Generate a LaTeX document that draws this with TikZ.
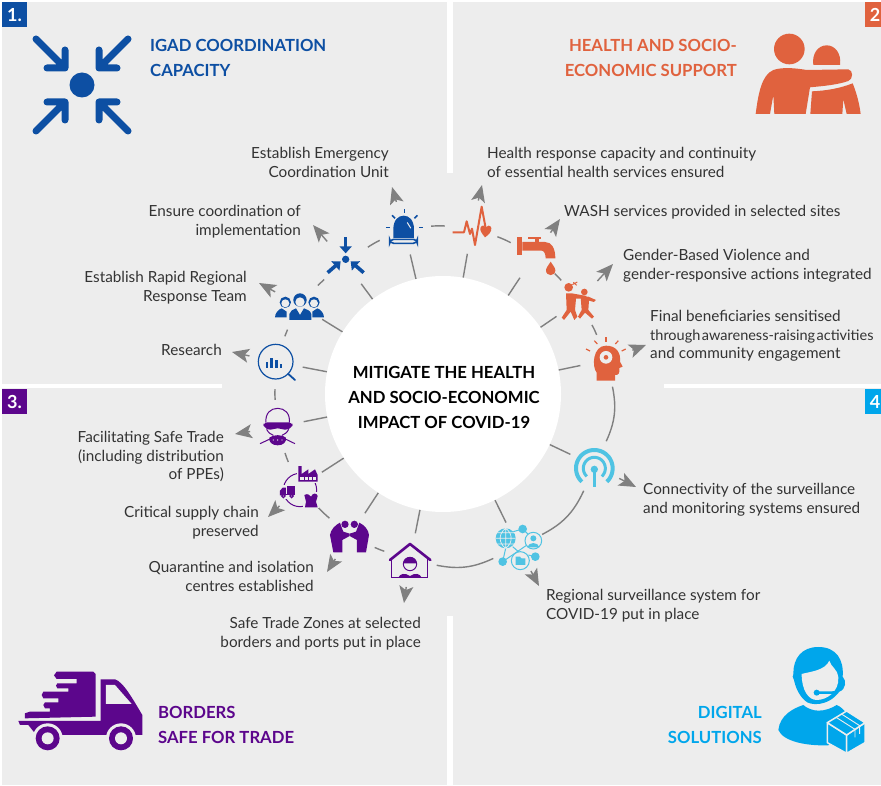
\documentclass[tikz,border=0pt]{standalone}
\usepackage{fontspec}
\setmainfont{Lato}
\usetikzlibrary{arrows.meta}
\definecolor{panelgray}{HTML}{EDEDED}
\definecolor{igadblue}{HTML}{0D4FA3}
\definecolor{healthred}{HTML}{E0623E}
\definecolor{tradepurple}{HTML}{5C068C}
\definecolor{digitalblue}{HTML}{00A6EB}
\definecolor{ringcyan}{HTML}{4FC3E3}
\definecolor{linegray}{HTML}{808080}
\definecolor{inkgray}{HTML}{333333}
\tikzset{
  iconspot/.style={circle,minimum size=54pt,inner sep=0pt},
  ringline/.style={linegray,line width=1.4pt},
  pointer/.style={linegray,line width=1.4pt,-{Stealth[length=17pt,width=14pt,inset=4pt]}},
  leftlabel/.style={anchor=north west,inner sep=0pt,align=left,text=inkgray,yshift=-2.5pt,font=\fontsize{15.3}{18.5}\selectfont},
  rightlabel/.style={anchor=north east,inner sep=0pt,align=right,text=inkgray,yshift=-2.5pt,font=\fontsize{15.3}{18.5}\selectfont},
  headline/.style={inner sep=0pt,font=\fontsize{16.7}{25}\selectfont\bfseries},
  badge/.style={anchor=center,inner sep=0pt,text=white,font=\fontsize{18}{18}\selectfont\bfseries},
  zoomA/.style={scale=0.33333},
  zoomB/.style={shift={(440,0)},scale=0.33333},
  zoomC/.style={shift={(0,390)},scale=0.33333},
  zoomD/.style={shift={(440,390)},scale=0.33333}
}
\begin{document}
\begin{tikzpicture}[x=1pt,y=-1pt]
\useasboundingbox (0,0) rectangle (881,786);
\fill[panelgray] (2,2) rectangle (881,785);
\fill[white] (447,0) rectangle (453,173);
\fill[white] (447,616) rectangle (453,786);
\fill[white] (0,384) rectangle (222,388);
\fill[white] (664,384) rectangle (881,388);
\fill[igadblue] (2,2) rectangle (27,27);
\fill[healthred] (865,2) rectangle (881,27);
\fill[tradepurple] (2,389) rectangle (27,414);
\fill[digitalblue] (865,389) rectangle (881,414);
\node[badge] (badgeone) at (14.5,15) {1.};
\node[badge] (badgetwo) at (875,15) {2};
\node[badge] (badgethree) at (14.5,402) {3.};
\node[badge] (badgefour) at (875,402) {4};
\node[circle,fill=white,minimum size=236pt,inner sep=0pt] (hub) at (443,394) {};
\node[inner sep=0pt,align=center,font=\fontsize{16.7}{25}\selectfont\bfseries,text=black] (hubtext) at (444,397.5) {MITIGATE THE HEALTH\\AND SOCIO-ECONOMIC\\IMPACT OF COVID-19};
\node[headline,anchor=north west,align=left,text=igadblue] (titleigad) at (150,39) {IGAD COORDINATION\\CAPACITY};
\node[headline,anchor=north east,align=right,text=healthred] (titlehealth) at (737,39) {HEALTH AND SOCIO-\\ECONOMIC SUPPORT};
\node[headline,anchor=north west,align=left,text=tradepurple] (titletrade) at (158,706) {BORDERS\\SAFE FOR TRADE};
\node[headline,anchor=north east,align=right,text=digitalblue] (titledigital) at (762,706) {DIGITAL\\SOLUTIONS};
\foreach \name/\x/\y in {research/276/362,team/299/305,arrows/345/262,alarm/404/228,ecg/472/227,tap/535/255,violence/579/301,mind/607/360,wifi/595/466,globe/518/547,house/410/560,hands/350/536,supply/299/487,mask/277/427}
  \node[iconspot] (\name) at (\x,\y) {};
\foreach \name/\x/\y in {research/232/352,team/259/283,arrows/313/225,alarm/392/187,ecg/482/185,tap/560/219,violence/613/264,mind/646/345,wifi/636/487,globe/539/586,house/404/603,hands/327/572,supply/268/517,mask/235/434}
  \coordinate (\name tip) at (\x,\y);
\node[rightlabel] (labelalarm) at (389,145) {Establish Emergency\\Coordination Unit};
\node[rightlabel] (labelarrows) at (301,203) {Ensure coordination of\\implementation};
\node[rightlabel] (labelteam) at (247,269) {Establish Rapid Regional\\Response Team};
\node[rightlabel] (labelresearch) at (222,342) {Research};
\node[leftlabel] (labelecg) at (487,145) {Health response capacity and continuity\\of essential health services ensured};
\node[leftlabel] (labeltap) at (564,203) {WASH services provided in selected sites};
\node[leftlabel] (labelviolence) at (623,247) {Gender-Based Violence and\\gender-responsive actions integrated};
\node[leftlabel] (labelmind) at (650,308) {Final beneficiaries sensitised\\{\fontsize{14.5}{18.5}\selectfont\spaceskip=1.5pt through awareness-raising activities}\\and community engagement};
\node[leftlabel] (labelwifi) at (643,481) {Connectivity of the surveillance\\and monitoring systems ensured};
\node[leftlabel] (labelglobe) at (546,587) {Regional surveillance system for\\COVID-19 put in place};
\node[rightlabel] (labelhouse) at (421,615) {Safe Trade Zones at selected\\borders and ports put in place};
\node[rightlabel] (labelhands) at (314,559) {Quarantine and isolation\\centres established};
\node[rightlabel] (labelsupply) at (259,504) {Critical supply chain\\preserved};
\node[rightlabel] (labelmask) at (224,429) {Facilitating Safe Trade\\(including distribution\\of PPEs)};
\foreach \a/\b/\bendby in {research/team/3,team/arrows/3,arrows/alarm/3,alarm/ecg/3,ecg/tap/3,tap/violence/3,violence/mind/3,mind/wifi/18,wifi/globe/19,globe/house/18,house/hands/3,hands/supply/3,supply/mask/3,mask/research/3}
  \draw[ringline] (\a) to[bend left=\bendby] (\b);
\foreach \name in {research,team,arrows,alarm,ecg,tap,violence,mind,wifi,globe,house,hands,supply,mask}{
  \draw[ringline] (hub) -- (\name);
  \draw[pointer] (\name) -- (\name tip);
}
\begin{scope}[shift={(82,85)}]
\fill[igadblue] (0,0) circle[radius=12.5];
\foreach \ang in {0,90,180,270}
  \draw[igadblue,line width=7pt,line cap=round,line join=round,rotate=\ang] (-46,-46) -- (-17,-17) (-17,-35) -- (-17,-17) -- (-35,-17);
\end{scope}
\begin{scope}[zoomB]
\fill[healthred] (1048,147) circle[radius=46];
\fill[healthred] (1120,195) .. controls (1115,160) and (1135,136) .. (1160,136) .. controls (1185,136) and (1205,160) .. (1200,195) -- cycle;
\fill[healthred] (947,342) .. controls (955,280) and (965,225) .. (1000,210) .. controls (1030,200) and (1070,205) .. (1100,210) -- (1225,208) .. controls (1240,210) and (1240,238) .. (1225,243) .. controls (1190,255) and (1150,258) .. (1110,262) -- (1097,342) -- (1003,342) -- (1000,285) -- (990,342) -- cycle;
\fill[healthred] (1116,274) .. controls (1160,272) and (1200,265) .. (1238,250) .. controls (1250,280) and (1258,310) .. (1262,342) -- (1220,342) -- (1210,298) -- (1207,342) -- (1111,342) -- cycle;
\end{scope}
\begin{scope}[zoomC]
\fill[tradepurple] (170,845) -- (280,845) -- (287,852) -- (287,980) -- (75,985) -- (75,970) -- (90,965) -- (150,965) -- (150,955) -- (135,955) -- (130,945) -- (135,937) -- (175,937) -- (175,925) -- (130,925) -- (125,915) -- (130,905) -- (205,905) -- (205,895) -- (172,895) -- (168,887) -- (172,880) -- (230,880) -- (230,867) -- (170,867) -- (162,856) -- cycle;
\fill[tradepurple] (55,993) -- (302,993) -- (302,868) -- (345,868) .. controls (370,875) and (400,930) .. (427,975) -- (427,1035) -- (405,1035) -- (320,1035) -- (185,1035) -- (105,1030) -- (85,1005) -- (60,1005) -- cycle;
\fill[panelgray] (318,885) -- (345,885) -- (395,942) -- (318,942) -- cycle;
\foreach \cx in {143,363}{
  \fill[panelgray] (\cx,1045) circle[radius=45];
  \fill[tradepurple] (\cx,1045) circle[radius=36];
  \fill[panelgray] (\cx,1045) circle[radius=18];
}
\end{scope}
\begin{scope}[zoomD]
\fill[digitalblue] (1135,771) .. controls (1085,771) and (1060,805) .. (1060,850) .. controls (1060,880) and (1075,915) .. (1095,932) .. controls (1110,948) and (1165,950) .. (1198,905) .. controls (1218,898) and (1220,872) .. (1208,860) .. controls (1212,810) and (1190,771) .. (1135,771) -- cycle;
\fill[panelgray] (1085,852) .. controls (1110,845) and (1155,842) .. (1168,812) .. controls (1172,830) and (1195,840) .. (1195,862) .. controls (1198,905) and (1160,930) .. (1130,930) .. controls (1105,930) and (1085,900) .. (1085,852) -- cycle;
\fill[digitalblue] (1070,860) circle[radius=12];
\draw[digitalblue,line width=2.5pt,line cap=round] (1130,908) -- (1175,908) .. controls (1190,908) and (1200,900) .. (1205,885);
\fill[digitalblue] (1130,908) circle[radius=9];
\fill[digitalblue] (1090,945) .. controls (1100,955) and (1120,962) .. (1135,962) .. controls (1155,962) and (1175,955) .. (1190,945) .. controls (1215,955) and (1230,985) .. (1230,1000) -- (1165,1066) .. controls (1100,1068) and (1030,1055) .. (1015,1020) .. controls (1020,975) and (1060,955) .. (1090,945) -- cycle;
\filldraw[fill=digitalblue,draw=panelgray,line width=1.5pt,line join=round] (1162,998) -- (1220,1035) -- (1220,1090) -- (1162,1058) -- cycle;
\filldraw[fill=digitalblue,draw=panelgray,line width=1.5pt,line join=round] (1275,998) -- (1220,1035) -- (1220,1090) -- (1275,1058) -- cycle;
\filldraw[fill=digitalblue,draw=panelgray,line width=1.5pt,line join=round] (1220,963) -- (1275,998) -- (1220,1035) -- (1162,998) -- cycle;
\draw[panelgray,line width=.9pt] (1190,983) -- (1245,1018) -- (1245,1042) (1206,973) -- (1259,1007) -- (1259,1032);
\end{scope}
\begin{scope}[zoomA]
\draw[igadblue,line width=1.2pt] (827,1085) circle[radius=52];
\draw[igadblue,line width=1.8pt,line cap=round] (865,1122) -- (885,1140);
\foreach \bx/\bh in {801/20,815/30,829/25,843/12}
  \fill[igadblue] (\bx-4,1105) rectangle (\bx+4,1105-\bh);
\foreach \hx/\hy/\hr in {856/907/17,942/907/17}{
  \fill[igadblue] (\hx,\hy) circle[radius=\hr];
  \fill[panelgray] (\hx,\hy+3) circle[radius=\hr-5];
}
\fill[igadblue] (825,952) .. controls (825,940) and (835,928) .. (845,925) -- (860,935) -- (860,952) -- cycle;
\fill[igadblue] (972,952) .. controls (972,940) and (962,928) .. (952,925) -- (937,935) -- (937,952) -- cycle;
\fill[panelgray] (900,905) circle[radius=24];
\fill[igadblue] (900,900) circle[radius=20];
\fill[panelgray] (900,906) circle[radius=14];
\fill[igadblue] (868,960) -- (868,942) .. controls (870,932) and (880,928) .. (888,925) -- (900,945) -- (912,925) .. controls (920,928) and (932,932) .. (934,942) -- (934,960) -- cycle;
\draw[igadblue,line width=3.6pt,-{Triangle[length=7pt,width=12pt]}] (1037,712) -- (1037,760);
\draw[igadblue,line width=3.6pt,-{Triangle[length=7pt,width=12pt]}] (983,818) -- (1022,784);
\draw[igadblue,line width=3.6pt,-{Triangle[length=7pt,width=12pt]}] (1091,818) -- (1052,784);
\fill[igadblue] (1037,778) circle[radius=11];
\fill[igadblue] (1180,714) -- (1180,688) .. controls (1180,660) and (1195,647) .. (1211,647) .. controls (1227,647) and (1242,660) .. (1242,688) -- (1242,714) -- cycle;
\draw[panelgray,line width=1pt,line cap=round] (1222,668) -- (1232,684);
\draw[igadblue,line width=1.6pt,rounded corners=4pt,fill=panelgray] (1169,718) rectangle (1252,730);
\foreach \rxa/\rya/\rxb/\ryb in {1213/628/1213/640,1176/646/1185/655,1252/646/1243/655,1158/682/1170/682,1258/682/1270/682}
  \draw[igadblue,line width=1.6pt] (\rxa,\rya) -- (\rxb,\ryb);
\end{scope}
\begin{scope}[zoomB]
\draw[healthred,line width=2pt,line join=round] (38,697) -- (72,697) -- (80,664) -- (90,702) -- (96,686) -- (105,735) -- (125,620) -- (138,690);
\fill[healthred] (135,712) .. controls (125,700) and (118,690) .. (122,682) .. controls (126,674) and (134,676) .. (137,682) .. controls (140,676) and (152,674) .. (154,684) .. controls (156,695) and (145,705) .. (135,712) -- cycle;
\fill[healthred] (232,712) rectangle (247,765);
\fill[healthred] (247,726) -- (315,726) .. controls (335,726) and (346,745) .. (346,775) -- (317,775) .. controls (317,762) and (312,752) .. (305,752) -- (247,752) -- cycle;
\fill[healthred] (284,715) rectangle (296,726);
\fill[healthred] (265,711) rectangle (303,716);
\fill[healthred] (332,785) .. controls (340,797) and (346,805) .. (346,811) .. controls (346,830) and (318,830) .. (318,811) .. controls (318,805) and (324,797) .. (332,785) -- cycle;
\fill[healthred] (386,862) circle[radius=13];
\fill[healthred] (433,876) circle[radius=10];
\fill[healthred] (378,880) -- (395,880) -- (440,888) -- (438,896) -- (408,896) -- (405,930) -- (412,950) -- (403,960) -- (392,935) -- (372,960) -- (365,953) -- (380,930) -- cycle;
\fill[healthred] (422,892) -- (445,890) -- (468,900) -- (462,906) -- (447,902) -- (445,930) -- (462,950) -- (456,956) -- (435,938) -- (420,956) -- (414,950) -- (425,930) -- cycle;
\draw[healthred,line width=1pt] (397,854) -- (412,846) (400,847) -- (410,856);
\fill[healthred] (498,1037) .. controls (530,1037) and (543,1060) .. (540,1085) -- (548,1100) -- (538,1104) .. controls (540,1120) and (535,1126) .. (525,1125) -- (525,1142) -- (470,1142) -- (470,1118) .. controls (455,1100) and (458,1037) .. (498,1037) -- cycle;
\fill[panelgray] (498,1072) circle[radius=19];
\fill[healthred] (498,1072) circle[radius=7];
\foreach \rxa/\rya/\rxb/\ryb in {498/1012/498/1025,463/1022/472/1032,535/1022/526/1032,438/1047/450/1053,557/1047/545/1053}
  \draw[healthred,line width=1.2pt] (\rxa,\rya) -- (\rxb,\ryb);
\end{scope}
\begin{scope}[zoomD]
\fill[ringcyan] (463,238) circle[radius=11];
\draw[ringcyan,line width=2.6pt] (463,240) -- (463,290);
\draw[ringcyan,line width=4pt,samples=40,domain=133:407,smooth] plot ({463+55*cos(\x)},{235+55*sin(\x)});
\draw[ringcyan,line width=3pt,samples=40,domain=133:407,smooth] plot ({463+33*cos(\x)},{235+33*sin(\x)});
\draw[ringcyan,line width=1pt] (197,475) -- (188,515) -- (280,452) (220,425) -- (248,417) -- (272,440) (218,470) -- (241,490) (265,495) -- (286,500);
\fill[ringcyan] (197,445) circle[radius=30];
\draw[panelgray,line width=.7pt] (167,445) -- (227,445) (172,428) -- (222,428) (172,462) -- (222,462) (197,415) -- (197,475) (197,415) .. controls (175,430) and (175,460) .. (197,475) (197,415) .. controls (219,430) and (219,460) .. (197,475);
\foreach \dx/\dy in {248/417,286/500,188/515}
  \fill[ringcyan] (\dx,\dy) circle[radius=13];
\filldraw[fill=panelgray,draw=ringcyan,line width=1pt] (280,452) circle[radius=25];
\fill[ringcyan] (280,445) circle[radius=9];
\fill[ringcyan] (262,472) .. controls (265,455) and (295,455) .. (298,472) -- cycle;
\filldraw[fill=panelgray,draw=ringcyan,line width=1pt] (241,512) circle[radius=27];
\fill[ringcyan] (227,500) -- (240,500) -- (244,505) -- (256,505) -- (256,525) -- (227,525) -- cycle;
\end{scope}
\begin{scope}[zoomC]
\draw[tradepurple,line width=2.6pt,line cap=round,line join=round] (1170,510) -- (1230,462) -- (1291,510);
\draw[tradepurple,line width=1pt] (1176,505) -- (1176,563) -- (1283,563) -- (1283,505);
\fill[tradepurple] (1195,563) .. controls (1200,550) and (1215,548) .. (1230,558) .. controls (1245,548) and (1260,550) .. (1265,563) -- cycle;
\draw[tradepurple,line width=1pt] (1230,522) circle[radius=20];
\fill[tradepurple] (1210,520) .. controls (1212,495) and (1248,495) .. (1250,520) -- cycle;
\fill[tradepurple] (1035,403) circle[radius=11];
\fill[tradepurple] (1063,403) circle[radius=11];
\fill[tradepurple] (1020,398) .. controls (1005,405) and (992,420) .. (990,435) -- (1000,487) -- (1027,487) -- (1027,450) -- (1049,438) -- (1049,431) -- (1030,425) -- (1025,412) -- cycle;
\fill[tradepurple] (1078,398) .. controls (1093,405) and (1106,420) .. (1107,435) -- (1098,487) -- (1071,487) -- (1071,450) -- (1049,438) -- (1049,431) -- (1068,425) -- (1073,412) -- cycle;
\draw[tradepurple,line width=1pt] (900,300) circle[radius=50];
\fill[panelgray] (890,225) rectangle (958,278);
\fill[tradepurple] (895,275) -- (895,228) -- (905,228) -- (905,252) -- (925,238) -- (925,252) -- (945,238) -- (953,255) -- (953,275) -- cycle;
\fill[panelgray] (901,262) rectangle (947,270);
\foreach \wx in {912,924,936}
  \fill[tradepurple] (\wx,262) rectangle (\wx+2,270);
\fill[panelgray] (836,285) rectangle (889,328);
\fill[tradepurple] (860,288) rectangle (885,314);
\fill[tradepurple] (840,316) -- (840,302) -- (848,293) -- (858,293) -- (858,316) -- cycle;
\fill[tradepurple] (840,312) rectangle (885,316);
\foreach \wx in {850,875}
  \filldraw[fill=panelgray,draw=tradepurple,line width=1.2pt] (\wx,318) circle[radius=5];
\fill[panelgray] (908,306) rectangle (956,354);
\fill[tradepurple] (913,315) .. controls (925,308) and (930,318) .. (933,320) .. controls (938,308) and (950,308) .. (953,318) -- (948,335) -- (953,352) -- (915,352) -- (918,335) -- cycle;
\draw[tradepurple,line width=1pt] (798,98) .. controls (795,70) and (812,55) .. (833,55) .. controls (854,55) and (871,70) .. (868,98);
\fill[tradepurple,rounded corners=4pt] (790,97) -- (878,97) -- (878,112) -- (855,122) -- (833,112) -- (811,122) -- (790,112) -- cycle;
\draw[tradepurple,line width=1pt] (800,118) .. controls (805,128) and (812,133) .. (820,136) (866,118) .. controls (861,128) and (854,133) .. (846,136);
\fill[tradepurple] (833,166) .. controls (815,166) and (806,155) .. (808,143) .. controls (818,133) and (848,133) .. (858,143) .. controls (860,155) and (851,166) .. (833,166) -- cycle;
\draw[tradepurple,line width=1pt] (780,161) -- (810,147) (885,161) -- (856,147);
\foreach \dx in {820,833,846}
  \fill[panelgray] (\dx,150) circle[radius=2];
\end{scope}
\end{tikzpicture}
\end{document}
